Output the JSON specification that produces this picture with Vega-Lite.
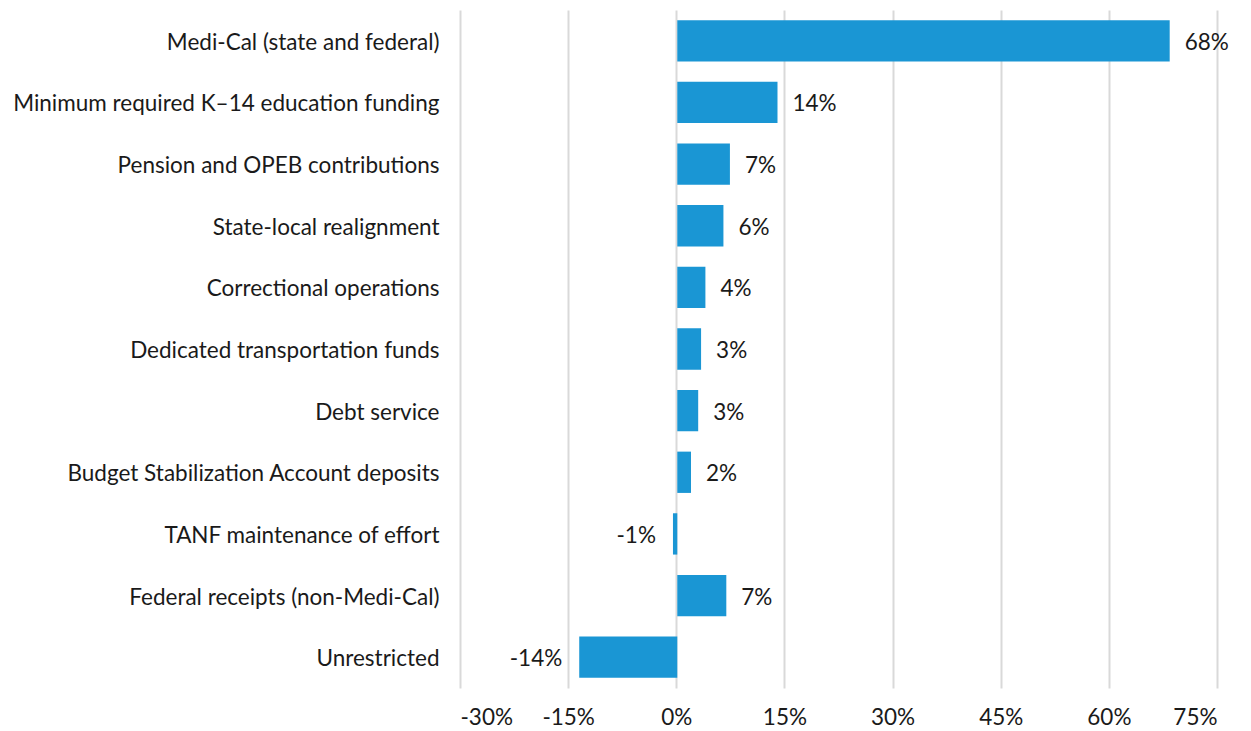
{
  "$schema": "https://vega.github.io/schema/vega-lite/v6.json",
  "width": 757,
  "height": 678,
  "autosize": "none",
  "padding": {"left": 460, "top": 10, "right": 34, "bottom": 43},
  "config": {
    "locale": {"number": {"decimal": ".", "thousands": ",", "grouping": [3], "currency": ["$", ""], "minus": "-"}},
    "font": "Lato",
    "view": {"stroke": null}
  },
  "data": {"values": [
    {"cat": "Medi-Cal (state and federal)", "v": 0.683},
    {"cat": "Minimum required K–14 education funding", "v": 0.139},
    {"cat": "Pension and OPEB contributions", "v": 0.073},
    {"cat": "State-local realignment ", "v": 0.064},
    {"cat": "Correctional operations", "v": 0.039},
    {"cat": "Dedicated transportation funds", "v": 0.033},
    {"cat": "Debt service", "v": 0.029},
    {"cat": "Budget Stabilization Account deposits", "v": 0.019},
    {"cat": "TANF maintenance of effort", "v": -0.006},
    {"cat": "Federal receipts (non-Medi-Cal)", "v": 0.068},
    {"cat": "Unrestricted", "v": -0.136}
  ]},
  "encoding": {
    "y": {"field": "cat", "type": "nominal", "sort": null, "title": null,
      "scale": {"paddingInner": 0.33, "paddingOuter": 0.165},
      "axis": {"domain": false, "ticks": false, "labelFontSize": 22.5, "labelColor": "#1a1a1a", "labelPadding": 21, "labelLimit": 460, "labelFont": "Lato", "labelOffset": 2}},
    "x": {"field": "v", "type": "quantitative", "title": null,
      "scale": {"domain": [-0.3, 0.75], "nice": false},
      "axis": {"values": [-0.3, -0.15, 0, 0.15, 0.3, 0.45, 0.6, 0.75], "format": ".0%", "domain": false, "ticks": false,
        "grid": true, "gridColor": "#d9d9d9", "gridWidth": 2, "labelFontSize": 22.5, "labelColor": "#1a1a1a", "labelPadding": 18, "labelFont": "Lato"}}
  },
  "layer": [
    {"mark": {"type": "bar", "color": "#1a96d4", "xOffset": 1}},
    {"transform": [{"filter": "datum.v >= 0"}],
     "mark": {"type": "text", "align": "left", "dx": 16, "dy": 2, "fontSize": 22.5, "color": "#1a1a1a", "font": "Lato"},
     "encoding": {"text": {"field": "v", "type": "quantitative", "format": ".0%"}}},
    {"transform": [{"filter": "datum.v < 0"}],
     "mark": {"type": "text", "align": "right", "dx": -16, "dy": 2, "fontSize": 22.5, "color": "#1a1a1a", "font": "Lato"},
     "encoding": {"text": {"field": "v", "type": "quantitative", "format": ".0%"}}}
  ]
}
